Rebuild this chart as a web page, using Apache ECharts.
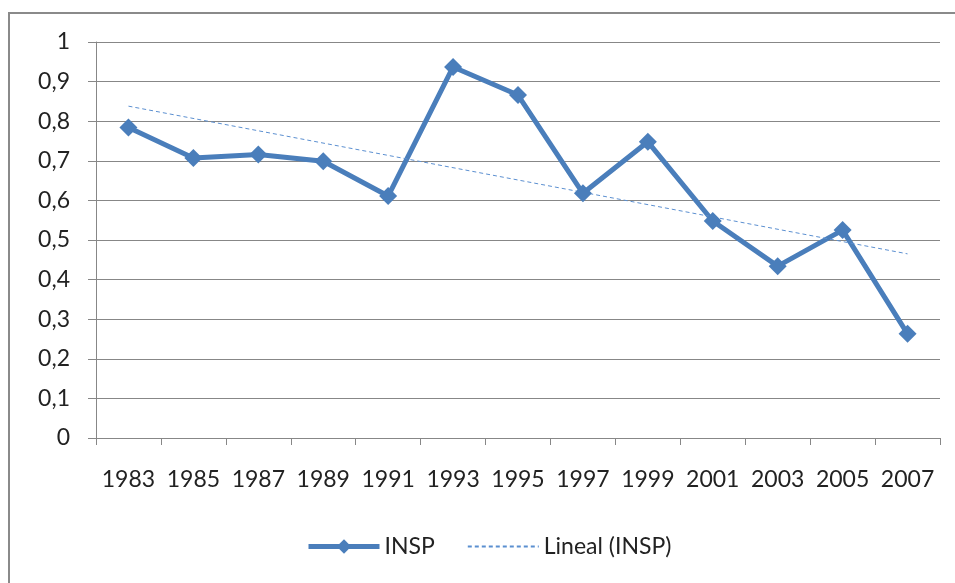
<html>
<head>
    <meta charset="utf-8">
    <script src="https://cdn.jsdelivr.net/npm/echarts@6/dist/echarts.min.js"></script>
</head>
<body style="margin:0; background:#fff">
    <div id="main" style="width:955px; height:583px"></div>
<script type="text/javascript">
    var years = ['1983', '1985', '1987', '1989', '1991', '1993', '1995', '1997', '1999', '2001', '2003', '2005', '2007'];
    var insp = [0.784, 0.707, 0.716, 0.699, 0.611, 0.937, 0.866, 0.618, 0.748, 0.548, 0.434, 0.525, 0.263];
    // trend line (Lineal) at the first and last year
    var trendEnds = [0.838, 0.465];

    var trend = years.map(function (y, i) {
        if (i === 0) return trendEnds[0];
        if (i === years.length - 1) return trendEnds[1];
        return null;
    });

    var blue = '#4A7EBB';
    var gray = '#878787';
    var font = 'Lato';

    var myChart = echarts.init(document.getElementById('main'));
    var option = {
        animation: false,
        textStyle: { fontFamily: font },
        graphic: [{
            type: 'rect',
            shape: { x: 9, y: 13, width: 1000, height: 1000 },
            style: { fill: null, stroke: '#8a8a8a', lineWidth: 2 }
        }],
        grid: { left: 96, top: 42, right: 15, bottom: 145 },
        legend: {
            bottom: 20,
            left: 301,
            itemWidth: 71,
            itemHeight: 18,
            itemGap: 32,
            textStyle: { fontSize: 23, color: '#222', fontFamily: font },
            data: [
                { name: 'INSP', lineStyle: { width: 5 } },
                { name: 'Lineal (INSP)', itemStyle: { opacity: 0 } }
            ]
        },
        xAxis: {
            type: 'category',
            data: years,
            boundaryGap: true,
            axisLine: { lineStyle: { color: gray, width: 1 } },
            axisTick: { show: true, length: 7, lineStyle: { color: gray } },
            axisLabel: { color: '#222', fontSize: 23, margin: 30, interval: 0, fontFamily: font }
        },
        yAxis: {
            type: 'value',
            min: 0,
            max: 1,
            interval: 0.1,
            axisLine: { show: true, lineStyle: { color: gray, width: 1 } },
            axisTick: { show: true, length: 8, lineStyle: { color: gray } },
            splitLine: { lineStyle: { color: gray, width: 1 } },
            axisLabel: {
                color: '#222', fontSize: 23, margin: 26, fontFamily: font,
                formatter: function (v) { return String(+v.toFixed(1)).replace('.', ','); }
            }
        },
        series: [{
            name: 'INSP',
            type: 'line',
            data: insp,
            symbol: 'diamond',
            symbolSize: 18,
            itemStyle: { color: blue },
            lineStyle: { color: blue, width: 5 }
        }, {
            name: 'Lineal (INSP)',
            type: 'line',
            data: trend,
            connectNulls: true,
            symbol: 'none',
            itemStyle: { color: '#5B8FD0' },
            lineStyle: { color: '#5B8FD0', width: 1, type: [4, 3] }
        }]
    };
    myChart.setOption(option);
</script>
</body>
</html>
